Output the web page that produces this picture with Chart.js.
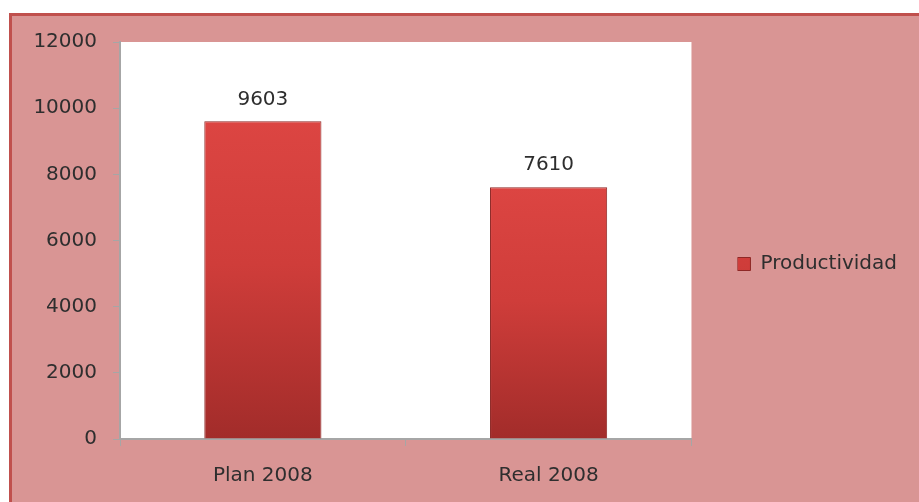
<!DOCTYPE html>
<html>
<head>
<meta charset="utf-8">
<script src="https://cdn.jsdelivr.net/npm/chart.js@4/dist/chart.umd.min.js"></script>
<style>
  html, body { margin: 0; padding: 0; background: #ffffff; }
  #wrap { position: relative; width: 919px; height: 502px; }
</style>
</head>
<body>
<div id="wrap"><canvas id="chart" width="919" height="502"></canvas></div>
<script>
const categories = ['Plan 2008', 'Real 2008'];
const productividad = [9603, 7610];
const yTickValues = [0, 2000, 4000, 6000, 8000, 10000, 12000];

const axisGray = '#a6a6a6';
const textColor = '#2e2e2e';
const fontFamily = '"DejaVu Sans", sans-serif';

// pink panel with the red frame, white plot area
const backdrop = {
  id: 'backdrop',
  beforeDraw(chart) {
    const { ctx, chartArea } = chart;
    ctx.save();
    ctx.fillStyle = '#ffffff';
    ctx.fillRect(0, 0, chart.width, chart.height);
    ctx.fillStyle = '#d99594';
    ctx.fillRect(10.5, 14.5, chart.width, chart.height);
    ctx.strokeStyle = '#c0504d';
    ctx.lineWidth = 3;
    ctx.beginPath();
    ctx.moveTo(10.5, chart.height + 5);
    ctx.lineTo(10.5, 14.5);
    ctx.lineTo(chart.width + 5, 14.5);
    ctx.stroke();
    ctx.fillStyle = '#ffffff';
    ctx.fillRect(chartArea.left, chartArea.top, chartArea.right - chartArea.left, chartArea.bottom - chartArea.top);
    ctx.restore();
  }
};

// value above each bar
const valueLabels = {
  id: 'valueLabels',
  afterDatasetsDraw(chart) {
    const { ctx } = chart;
    const meta = chart.getDatasetMeta(0);
    ctx.save();
    ctx.font = '20px ' + fontFamily;
    ctx.fillStyle = textColor;
    ctx.textAlign = 'center';
    ctx.textBaseline = 'middle';
    meta.data.forEach((bar, i) => {
      ctx.fillText(String(productividad[i]), bar.x, bar.y - 22);
    });
    ctx.restore();
  }
};

function barFill(context) {
  const chart = context.chart;
  const area = chart.chartArea;
  if (!area || context.parsed === undefined) return '#c8403d';
  const top = chart.scales.y.getPixelForValue(context.parsed.y);
  const g = chart.ctx.createLinearGradient(0, top, 0, area.bottom);
  g.addColorStop(0, '#dc4542');
  g.addColorStop(0.45, '#cf3d3a');
  g.addColorStop(1, '#a22c2a');
  return g;
}

new Chart(document.getElementById('chart'), {
  type: 'bar',
  data: {
    labels: categories,
    datasets: [{
      label: 'Productividad',
      data: productividad,
      backgroundColor: barFill,
      borderColor: '#8e2826',
      borderWidth: 1,
      barPercentage: 0.41,
      categoryPercentage: 1
    }]
  },
  options: {
    responsive: false,
    animation: false,
    layout: { padding: { top: 42, left: 0, right: 12, bottom: 16 } },
    plugins: {
      legend: {
        position: 'right',
        maxWidth: 300,
        labels: {
          boxWidth: 13,
          boxHeight: 13,
          padding: 0,
          color: textColor,
          font: { family: fontFamily, size: 20 }
        }
      },
      tooltip: { enabled: false }
    },
    scales: {
      x: {
        offset: true,
        grid: { offset: true, drawOnChartArea: false, drawTicks: true, tickLength: 7, color: axisGray },
        border: { display: true, color: axisGray, width: 2 },
        ticks: { color: textColor, padding: 18, font: { family: fontFamily, size: 20 } },
        afterFit(scale) { scale.height = 47; }
      },
      y: {
        min: 0,
        max: 12000,
        afterBuildTicks(scale) { scale.ticks = yTickValues.map(v => ({ value: v })); },
        grid: { drawOnChartArea: false, drawTicks: true, tickLength: 7, color: axisGray },
        border: { display: true, color: axisGray, width: 2 },
        ticks: {
          color: textColor,
          padding: 16,
          font: { family: fontFamily, size: 20 },
          callback: (value) => String(value)
        },
        afterFit(scale) { scale.width = 120; }
      },
      y2: {
        position: 'right',
        display: true,
        grid: { display: false },
        border: { display: false },
        ticks: { display: false },
        afterFit(scale) { scale.width = 46; }
      }
    }
  },
  plugins: [backdrop, valueLabels]
});
</script>
</body>
</html>
